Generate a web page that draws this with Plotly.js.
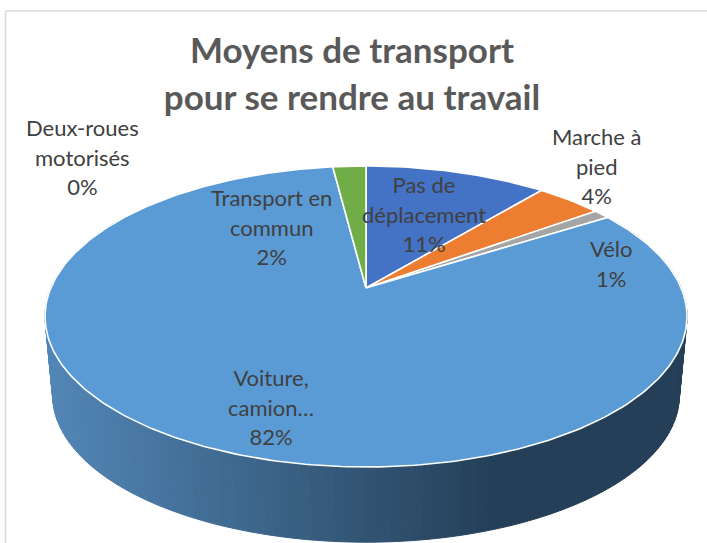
<!DOCTYPE html>
<html>
<head>
<meta charset="utf-8">
<script src="https://cdn.plot.ly/plotly-3.0.1.min.js"></script>
<style>html,body{margin:0;padding:0;background:#fff}#chart{width:707px;height:543px}</style>
</head>
<body>
<div id="chart"></div>
<script>
// ---- data ----
const categories = ["Pas de<br>déplacement", "Marche à<br>pied", "Vélo", "Voiture,<br>camion…", "Deux-roues<br>motorisés", "Transport en<br>commun"];
const values = [11, 4, 1, 82, 0, 2];
const sliceColors = ["#4472c4", "#ed7d31", "#a5a5a5", "#5b9bd5", "#ffc000", "#70ad47"];
const labelAnchorX = [424, 597, 611, 271, 82, 271.5];
const labelAnchorY = [168.5, 120.5, 233, 361.5, 111.5, 181.5];

// ---- perspective of the pie disc ----
const apexX = 366, apexY = 288, semiX = 315.2, semiY = 145.1, tilt = 0.1893;
const baseScale = 0.976, baseApexY = 367.5;
const project = (theta, scale, ay) => {
  const X = Math.sin(theta), Y = Math.cos(theta), d = 1 + tilt * Y;
  return [apexX + scale * semiX * X / d, ay - scale * semiY * Y / d];
};
const total = values.reduce((a, b) => a + b, 0);
const traces = [];

// side wall: horizontal gradient made of thin strips
const wallLight = [82, 134, 182], wallDark = [36, 63, 87];
const wallFrom = 60 * Math.PI / 180, wallTo = 300 * Math.PI / 180, strips = 200;
for (let i = 0; i < strips; i++) {
  const t1 = wallFrom + (wallTo - wallFrom) * i / strips;
  const t2 = wallFrom + (wallTo - wallFrom) * (i + 1) / strips;
  const pts = [project(t1, 1, apexY), project(t2, 1, apexY), project(t2, baseScale, baseApexY), project(t1, baseScale, baseApexY), project(t1, 1, apexY)];
  const mx = (pts[0][0] + pts[1][0]) / 2;
  const f = Math.min(1, Math.max(0, (mx - 47) / (500 - 47)));
  const c = wallLight.map((v, k) => Math.round(v + (wallDark[k] - v) * f));
  const col = `rgb(${c[0]},${c[1]},${c[2]})`;
  traces.push({type: "scatter", mode: "lines", x: pts.map(p => p[0]), y: pts.map(p => p[1]),
    fill: "toself", fillcolor: col, line: {color: col, width: 1}, hoverinfo: "skip", showlegend: false});
}

// top face slices, computed from the values
let cum = 0;
values.forEach((v, i) => {
  const start = cum / total * 2 * Math.PI;
  cum += v;
  const end = cum / total * 2 * Math.PI;
  const n = Math.max(1, Math.ceil(v * 4));
  const xs = [apexX], ys = [apexY];
  for (let j = 0; j <= n; j++) {
    const p = project(start + (end - start) * j / n, 1, apexY);
    xs.push(p[0]); ys.push(p[1]);
  }
  xs.push(apexX); ys.push(apexY);
  if (v > 0) traces.push({type: "scatter", mode: "lines", x: xs, y: ys, fill: "toself", fillcolor: sliceColors[i],
    line: {color: "#ffffff", width: 1.6}, name: categories[i].replace("<br>", " "), hoverinfo: "name", showlegend: false});
});

const labelSpacing = 22.7, labelSize = 22;
const annotations = categories.map((c, i) => ({
  xref: "x", yref: "y", x: labelAnchorX[i], y: labelAnchorY[i], xanchor: "center", yanchor: "top", showarrow: false, align: "center",
  text: c.split("<br>").concat([values[i] + "%"]).map(s => `<span style="font-size:${labelSize}px">${s}</span>`).join("<br>"),
  font: {family: "Lato, 'Open Sans', sans-serif", size: labelSpacing, color: "#404040"}
}));

const layout = {
  width: 707, height: 543, margin: {l: 0, r: 0, t: 0, b: 0},
  paper_bgcolor: "#ffffff", plot_bgcolor: "#ffffff", showlegend: false,
  title: {text: '<span style="font-size:35px"><b>Moyens de transport</b></span><br><span style="font-size:35px"><b>pour se rendre au travail</b></span>',
    font: {family: "Lato, 'Open Sans', sans-serif", size: 36, color: "#595959", weight: 900},
    x: 352 / 707, xanchor: "center", xref: "paper", y: 1 - 63 / 543, yanchor: "middle", yref: "container"},
  xaxis: {range: [0, 707], visible: false, fixedrange: true},
  yaxis: {range: [543, 0], visible: false, fixedrange: true},
  annotations: annotations,
  shapes: [
    {type: "line", xref: "x", yref: "y", x0: 5.5, x1: 707, y0: 11, y1: 11, line: {color: "#d9d9d9", width: 1.5}},
    {type: "line", xref: "x", yref: "y", x0: 5.5, x1: 5.5, y0: 11, y1: 543, line: {color: "#d9d9d9", width: 1.5}}
  ]
};
Plotly.newPlot("chart", traces, layout, {displayModeBar: false, responsive: false});
</script>
</body>
</html>
